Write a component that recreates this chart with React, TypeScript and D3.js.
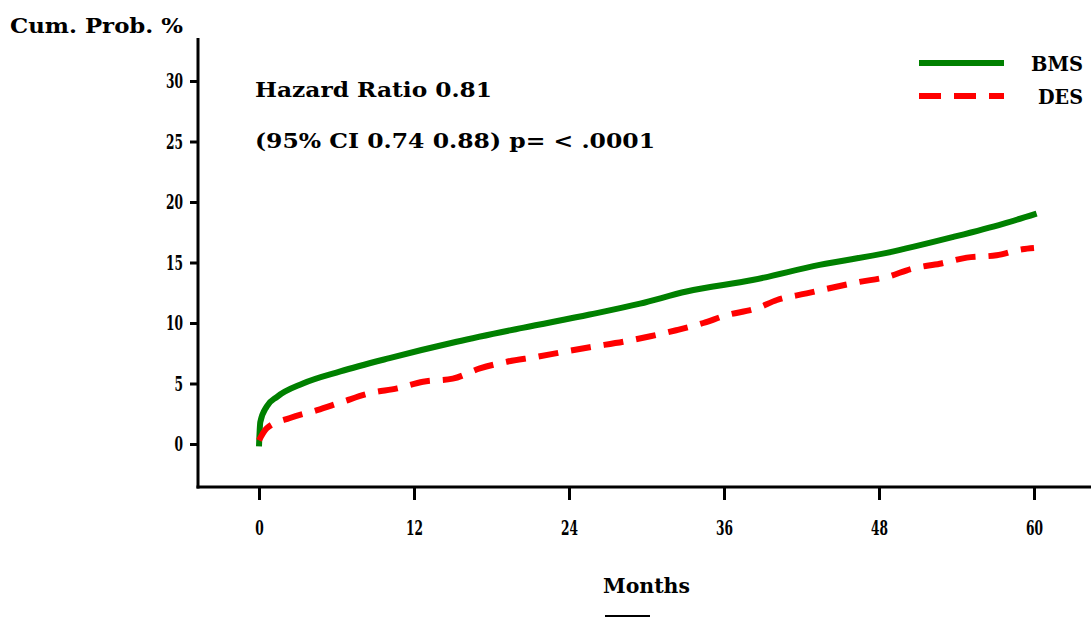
import { useEffect, useRef } from 'react';
import * as d3 from 'd3';

// Cumulative probability (%), by month
const bmsMonths = [0, 0.1, 0.6, 1.4, 3.4, 6.3, 10.1, 15.3, 20.4, 25.6, 29.5, 33.1, 38.2, 43.4, 48.6, 53.7, 57.6, 60.2];
const bmsValues = [-0.2, 1.8, 3.1, 3.9, 5.0, 6.0, 7.1, 8.45, 9.6, 10.7, 11.6, 12.6, 13.55, 14.8, 15.8, 17.1, 18.2, 19.05];

const desMonths = [0, 0.6, 2.4, 4.5, 6.5, 8.6, 10.7, 12.7, 15, 17.1, 19.2, 21.5, 23.5, 25.6, 28.2, 30.3, 32.3, 34.4, 36.2, 38.5, 40.1, 42.4, 44.7, 46.5, 48.6, 50.6, 52.7, 54.8, 57.1, 59.1, 60];
const desValues = [0.3, 1.3, 2.15, 2.8, 3.5, 4.2, 4.6, 5.15, 5.4, 6.25, 6.8, 7.2, 7.6, 8.0, 8.45, 8.9, 9.4, 10.0, 10.65, 11.2, 11.9, 12.45, 13.0, 13.4, 13.8, 14.5, 14.9, 15.4, 15.6, 16.1, 16.2];

const xTicks = [0, 12, 24, 36, 48, 60];
const yTicks = [0, 5, 10, 15, 20, 25, 30];
const seriesNames = ['BMS', 'DES'];
const seriesColours = ['#008000', '#ff0000'];
const annotation = ['Hazard Ratio 0.81', '(95% CI 0.74 0.88)  p= < .0001'];

const WIDTH = 1091;
const HEIGHT = 618;
const frame = { left: 198, right: 1091, top: 38, bottom: 487 };
const FONT = "'DejaVu Serif', 'Liberation Serif', serif";

export default function App() {
    const xAxisEl = useRef<SVGGElement>(null);
    const yAxisEl = useRef<SVGGElement>(null);

    const x = d3.scaleLinear().domain([0, 60]).range([259, 1034]);
    const y = d3.scaleLinear().domain([0, 30]).range([444, 81]);

    const line = d3
        .line<[number, number]>()
        .x((d) => x(d[0]))
        .y((d) => y(d[1]))
        .curve(d3.curveMonotoneX);

    const bms = bmsMonths.map((m, i) => [m, bmsValues[i]] as [number, number]);
    const des = desMonths.map((m, i) => [m, desValues[i]] as [number, number]);

    useEffect(() => {
        const styleTicks = (g: d3.Selection<SVGGElement, unknown, null, undefined>) => {
            g.select('.domain').remove();
            g.selectAll('.tick line').attr('stroke', '#000').attr('stroke-width', 3);
            g.selectAll<SVGTextElement, number>('.tick text')
                .attr('fill', '#000')
                .attr('font-family', FONT)
                .attr('font-weight', 'bold')
                .attr('font-size', 21)
                .attr('lengthAdjust', 'spacingAndGlyphs')
                .attr('textLength', (d) => String(d).length * 8.5);
        };
        if (xAxisEl.current) {
            d3.select(xAxisEl.current)
                .call(d3.axisBottom(x).tickValues(xTicks).tickSize(13).tickPadding(20))
                .call(styleTicks);
        }
        if (yAxisEl.current) {
            d3.select(yAxisEl.current)
                .call(d3.axisLeft(y).tickValues(yTicks).tickSize(8).tickPadding(7))
                .call(styleTicks);
        }
    });

    return (
        <svg
            width={WIDTH}
            height={HEIGHT}
            viewBox={`0 0 ${WIDTH} ${HEIGHT}`}
            style={{ position: 'absolute', left: 0, top: 0, background: '#fff' }}
        >
            <g ref={xAxisEl} transform={`translate(0, ${frame.bottom})`} />
            <g ref={yAxisEl} transform={`translate(${frame.left}, 0)`} />
            <line x1={frame.left} x2={frame.left} y1={frame.top} y2={frame.bottom + 1.5} stroke="#000" strokeWidth={3} />
            <line x1={frame.left - 1.5} x2={frame.right} y1={frame.bottom} y2={frame.bottom} stroke="#000" strokeWidth={3} />

            <g fontFamily={FONT} fontWeight="bold" fill="#000">
                <text x={10} y={33} fontSize={20} textLength={173} lengthAdjust="spacingAndGlyphs">
                    Cum. Prob. %
                </text>
                <text x={255} y={97} fontSize={21} textLength={237} lengthAdjust="spacingAndGlyphs">
                    {annotation[0]}
                </text>
                <text x={255} y={148} fontSize={21} textLength={400} lengthAdjust="spacingAndGlyphs">
                    {annotation[1]}
                </text>
                <text x={603} y={593} fontSize={20} textLength={87} lengthAdjust="spacingAndGlyphs">
                    Months
                </text>
            </g>
            <line x1={605} x2={650} y1={616} y2={616} stroke="#000" strokeWidth={2} />

            <path d={line(bms) ?? ''} fill="none" stroke={seriesColours[0]} strokeWidth={6} />
            <path d={line(des) ?? ''} fill="none" stroke={seriesColours[1]} strokeWidth={6} strokeDasharray="20 13" />

            <g fontFamily={FONT} fontWeight="bold" fontSize={21} fill="#000">
                {seriesNames.map((name, i) => (
                    <g key={name} transform={`translate(0, ${63 + i * 33})`}>
                        <line
                            x1={919}
                            x2={1004}
                            stroke={seriesColours[i]}
                            strokeWidth={6}
                            strokeDasharray={i === 1 ? '22 13' : undefined}
                        />
                        <text
                            x={1083}
                            y={8}
                            textAnchor="end"
                            textLength={i === 0 ? 52 : 45}
                            lengthAdjust="spacingAndGlyphs"
                        >
                            {name}
                        </text>
                    </g>
                ))}
            </g>
        </svg>
    );
}
